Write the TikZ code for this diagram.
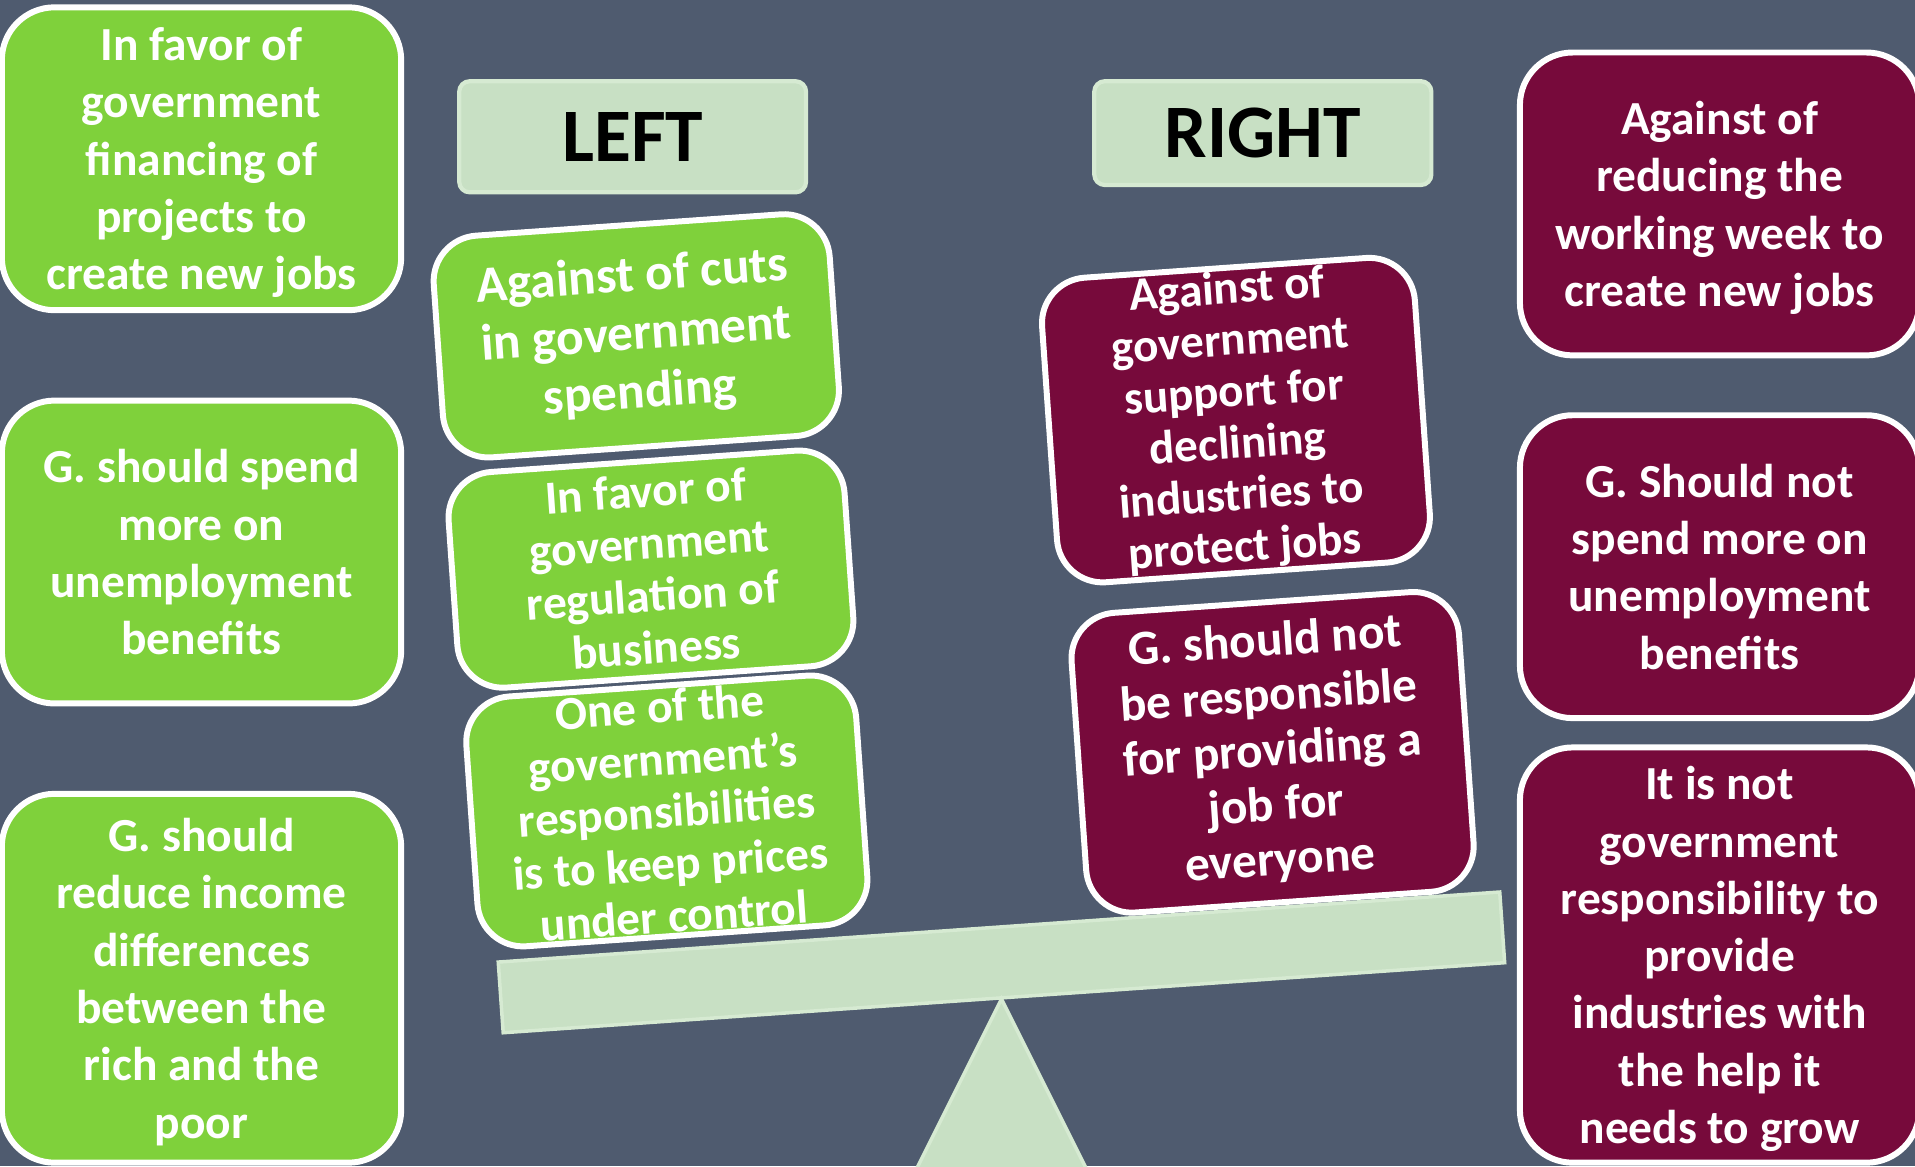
\documentclass[tikz,border=0pt]{standalone}
\usepackage{fontspec}
\setmainfont{Carlito}
\newcommand\pxu{0.34749pt}
\definecolor{slate}{RGB}{79,91,111}
\definecolor{limegreen}{RGB}{127,209,59}
\definecolor{wine}{RGB}{119,10,59}
\definecolor{pale}{RGB}{200,224,196}
\definecolor{paleedge}{RGB}{214,234,210}
\begin{document}
\begin{tikzpicture}[x=\pxu, y=-\pxu,
    card/.style={rounded corners=15pt, draw=white, line width=1.7pt, text=white, align=center, inner sep=0pt, font=\bfseries\fontsize{13.5}{16.3}\selectfont},
    pro/.style={card, fill=limegreen},
    contra/.style={card, fill=wine},
    side/.style={minimum width=327*\pxu, text depth=0pt},
    tilt/.style={rotate=4, rounded corners=13pt},
    head/.style={fill=pale, draw=paleedge, line width=1.2pt, rounded corners=3pt, inner sep=0pt, font=\bfseries\fontsize{21.5}{25}\selectfont, text=black}]
    \fill[slate] (0,0) rectangle (1568,955);
    \useasboundingbox (0,0) rectangle (1568,955);
    \clip (0,0) rectangle (1568,955);
    % outer columns
    \node[pro, side, minimum height=248*\pxu] (l1) at (165,130) {In favor of\\government\\financing of\\projects to\\create new jobs};
    \node[pro, side, minimum height=248*\pxu] (l2) at (165,452) {G. should spend\\more on\\unemployment\\benefits};
    \node[pro, side, minimum height=302*\pxu] (l3) at (165,801) {G. should\\reduce income\\differences\\between the\\rich and the\\poor};
    \node[contra, side, minimum height=248*\pxu] (r1) at (1408,167) {Against of\\reducing the\\working week to\\create new jobs};
    \node[contra, side, minimum height=248*\pxu] (r2) at (1408,464) {G. Should not\\spend more on\\unemployment\\benefits};
    \node[contra, side, minimum height=340*\pxu] (r3) at (1408,782) {It is not\\government\\responsibility to\\provide\\industries with\\the help it\\needs to grow};
    % headers
    \node[head, minimum width=284*\pxu, minimum height=91*\pxu] (left) at (518,112) {LEFT};
    \node[head, minimum width=276*\pxu, minimum height=85*\pxu] (right) at (1034,109) {RIGHT};
    % seesaw
    \node[fill=pale, draw=paleedge, line width=1pt, rotate=4, inner sep=0pt, minimum width=822*\pxu, minimum height=58*\pxu] (beam) at (820,788) {};
    \filldraw[fill=pale, draw=paleedge, line width=1pt] (820,818) -- (892,962) -- (748,962) -- cycle;
    % stacks on the beam
    \node[pro, tilt, minimum width=325*\pxu, minimum height=182*\pxu, font=\bfseries\fontsize{14.6}{16.6}\selectfont] (t1) at (521,275) {Against of cuts\\in government\\spending};
    \node[pro, tilt, minimum width=325*\pxu, minimum height=177*\pxu, font=\bfseries\fontsize{13.5}{14.9}\selectfont] (t2) at (533,466) {In favor of\\government\\regulation of\\business};
    \node[pro, tilt, minimum width=320*\pxu, minimum height=205*\pxu, font=\bfseries\fontsize{13.5}{14.9}\selectfont] (t3) at (546,664) {One of the\\government’s\\responsibilities\\is to keep prices\\under control};
    \node[contra, tilt, minimum width=306*\pxu, minimum height=250*\pxu, font=\bfseries\fontsize{13.4}{14.7}\selectfont] (t4) at (1012,344) {Against of\\government\\support for\\declining\\industries to\\protect jobs};
    \node[contra, tilt, minimum width=318*\pxu, minimum height=246*\pxu, font=\bfseries\fontsize{14}{15.6}\selectfont] (t5) at (1042,616) {G. should not\\be responsible\\for providing a\\job for\\everyone};
\end{tikzpicture}
\end{document}
